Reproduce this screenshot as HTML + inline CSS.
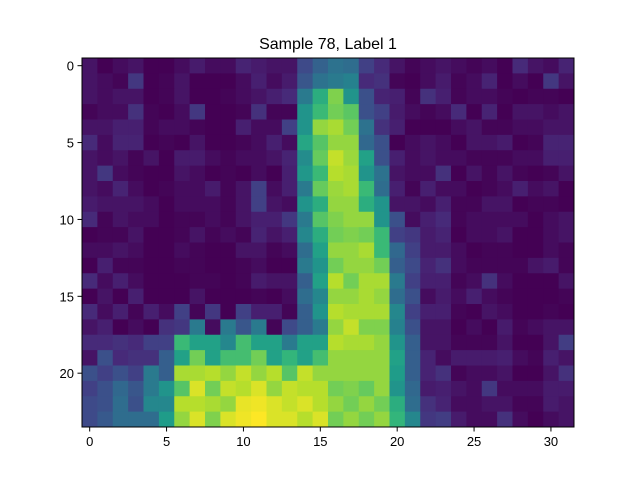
<!DOCTYPE html>
<html><head><meta charset="utf-8"><style>
body{margin:0;background:#fff;font-family:"Liberation Sans",sans-serif}
</style></head><body>
<svg id="chart" width="640" height="480" xmlns="http://www.w3.org/2000/svg">
<rect width="640" height="480" fill="#fff"/>
<text x="328" y="49" text-anchor="middle" font-size="16" font-family="Liberation Sans, sans-serif">Sample 78, Label 1</text>
<g id="cells"></g>
<g id="axes" font-family="Liberation Sans, sans-serif"></g>
</svg>
<script>
const xTicks=[0,5,10,15,20,25,30];
const yTicks=[0,5,10,15,20];
const values=[
[.12,.05,.1,.12,.05,.06,.1,.14,.1,.1,.16,.14,.12,.12,.28,.36,.42,.4,.25,.18,.12,.08,.1,.12,.1,.08,.1,.06,.18,.12,.1,.16],
[.12,.1,.08,.22,.06,.08,.12,.07,.07,.07,.1,.15,.1,.14,.32,.42,.45,.48,.18,.2,.08,.07,.1,.14,.08,.1,.16,.04,.1,.05,.22,.12],
[.12,.1,.12,.12,.07,.08,.12,.05,.03,.08,.1,.12,.15,.18,.45,.65,.82,.55,.3,.16,.15,.08,.2,.15,.08,.1,.1,.08,.06,.08,.08,.06],
[.08,.1,.1,.2,.08,.06,.1,.22,.07,.07,.08,.2,.08,.08,.55,.7,.8,.76,.3,.25,.14,.1,.08,.1,.18,.06,.16,.02,.12,.12,.1,.12],
[.12,.12,.15,.15,.08,.1,.1,.08,.07,.05,.15,.1,.1,.25,.55,.85,.88,.8,.42,.2,.15,.07,.07,.04,.1,.12,.08,.08,.1,.1,.12,.12],
[.18,.1,.16,.16,.05,.08,.03,.12,.07,.04,.08,.1,.15,.1,.62,.75,.85,.85,.38,.3,.06,.1,.12,.1,.04,.12,.12,.14,.06,.08,.16,.16],
[.12,.1,.12,.08,.12,.06,.14,.14,.1,.08,.1,.1,.12,.16,.52,.78,.92,.86,.6,.3,.15,.1,.12,.1,.1,.08,.08,.08,.1,.1,.15,.15],
[.12,.22,.1,.08,.06,.06,.12,.1,.05,.08,.06,.1,.04,.15,.56,.7,.9,.88,.55,.42,.12,.1,.1,.2,.05,.12,.08,.12,.08,.06,.08,.12],
[.12,.1,.16,.1,.03,.08,.1,.1,.14,.08,.12,.25,.1,.15,.45,.78,.86,.88,.7,.4,.15,.08,.15,.1,.1,.02,.08,.1,.15,.1,.12,.06],
[.14,.12,.12,.12,.1,.06,.1,.1,.1,.08,.12,.25,.12,.1,.55,.65,.85,.85,.65,.55,.12,.12,.1,.15,.08,.08,.12,.12,.04,.08,.08,.04],
[.18,.08,.12,.1,.1,.02,.08,.08,.1,.08,.12,.15,.15,.22,.45,.75,.82,.85,.85,.55,.3,.1,.15,.18,.08,.1,.1,.1,.1,.06,.1,.12],
[.06,.08,.08,.12,.06,.06,.08,.12,.08,.1,.08,.16,.12,.15,.5,.65,.8,.82,.8,.7,.25,.22,.14,.16,.06,.1,.1,.12,.06,.04,.1,.12],
[.1,.1,.12,.1,.06,.06,.1,.08,.06,.04,.12,.12,.08,.1,.4,.6,.85,.85,.88,.7,.38,.25,.14,.14,.1,.06,.08,.08,.06,.06,.1,.08],
[.06,.15,.08,.08,.02,.06,.08,.08,.06,.06,.08,.1,.04,.06,.45,.55,.8,.85,.85,.8,.35,.28,.16,.2,.1,.08,.08,.08,.08,.12,.14,.08],
[.18,.1,.15,.1,.07,.04,.06,.08,.08,.04,.08,.14,.12,.12,.35,.6,.9,.8,.88,.88,.45,.25,.15,.15,.08,.1,.2,.1,.06,.06,.06,.12],
[.06,.12,.06,.15,.06,.06,.06,.12,.06,.06,.06,.08,.06,.1,.4,.5,.85,.85,.88,.85,.4,.3,.1,.14,.1,.15,.1,.08,.04,.06,.04,.08],
[.18,.1,.15,.08,.15,.1,.25,.08,.22,.04,.25,.15,.15,.08,.35,.55,.9,.88,.88,.88,.5,.25,.15,.15,.08,.04,.12,.1,.06,.06,.08,.04],
[.12,.15,.07,.1,.06,.2,.22,.45,.1,.45,.32,.45,.08,.28,.35,.45,.85,.92,.82,.82,.48,.3,.12,.12,.06,.1,.06,.14,.08,.1,.12,.12],
[.18,.18,.2,.18,.25,.25,.7,.6,.6,.5,.72,.6,.6,.45,.6,.6,.9,.88,.88,.85,.55,.35,.12,.12,.08,.08,.08,.12,.02,.06,.12,.24],
[.12,.3,.18,.2,.2,.35,.6,.8,.6,.72,.72,.8,.6,.68,.6,.72,.85,.85,.85,.85,.6,.35,.16,.1,.14,.14,.14,.15,.1,.08,.15,.12],
[.3,.25,.3,.25,.45,.35,.88,.88,.9,.85,.92,.85,.9,.75,.92,.85,.85,.85,.85,.85,.58,.35,.16,.2,.08,.1,.1,.12,.02,.06,.12,.2],
[.25,.3,.38,.32,.45,.55,.75,.95,.8,.92,.9,.95,.85,.92,.9,.9,.8,.82,.78,.85,.55,.38,.14,.15,.12,.1,.22,.1,.1,.1,.14,.14],
[.28,.3,.4,.3,.5,.5,.9,.9,.88,.85,.97,.98,.95,.92,.95,.9,.85,.8,.85,.8,.65,.4,.2,.16,.1,.1,.12,.12,.08,.08,.14,.12],
[.28,.33,.4,.4,.4,.58,.85,.95,.82,.95,.98,1.0,.95,.95,.9,.95,.8,.85,.8,.85,.68,.5,.22,.24,.14,.1,.1,.2,.1,.06,.1,.12]
];
const VIR=[[68,1,84],[72,40,120],[62,73,137],[49,104,142],[38,130,142],[31,158,137],[53,183,121],[109,205,89],[180,222,44],[253,231,37]];
const VMIN=0.07;
function viridis(v){let t=(v-VMIN)/(1-VMIN);t=Math.max(0,Math.min(1,t));const p=t*(VIR.length-1),i=Math.min(VIR.length-2,Math.floor(p)),f=p-i;
const c=VIR[i].map((x,k)=>Math.round(x+(VIR[i+1][k]-x)*f));return `rgb(${c[0]},${c[1]},${c[2]})`;}
const X0=82,Y0=58,W=492,H=369,NC=32,NR=24,cw=W/NC,ch=H/NR;
const sx=v=>X0+(v+0.5)*cw, sy=v=>Y0+(v+0.5)*ch;
const NS="http://www.w3.org/2000/svg";
const cells=document.getElementById('cells');
values.forEach((row,r)=>row.forEach((v,c)=>{
const el=document.createElementNS(NS,'rect');
el.setAttribute('x',sx(c)-cw/2);el.setAttribute('y',sy(r)-ch/2);
el.setAttribute('width',cw+0.4);el.setAttribute('height',ch+0.4);
el.setAttribute('fill',viridis(v));


cells.appendChild(el);}));
const ax=document.getElementById('axes');
function add(tag,attrs,txt){const e=document.createElementNS(NS,tag);for(const k in attrs)e.setAttribute(k,attrs[k]);if(txt!==undefined)e.textContent=txt;ax.appendChild(e);return e;}
const frame=add('rect',{x:X0,y:Y0,width:W,height:H,fill:'none',stroke:'#000','stroke-width':1});


xTicks.forEach(t=>{const x=sx(t);
const l=add('line',{x1:x,x2:x,y1:Y0+H,y2:Y0+H+4.5,stroke:'#000'});


const tx=add('text',{x:x,y:Y0+H+19,'text-anchor':'middle','font-size':13},String(t));

});
yTicks.forEach(t=>{const y=sy(t);
const l=add('line',{x1:X0-4.5,x2:X0,y1:y,y2:y,stroke:'#000'});


const tx=add('text',{x:X0-8,y:y+5,'text-anchor':'end','font-size':13},String(t));

});
</script>
</body></html>
